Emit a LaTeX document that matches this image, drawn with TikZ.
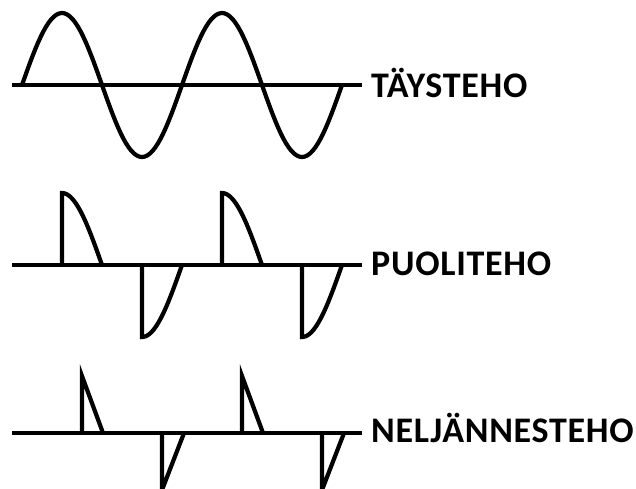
\documentclass[tikz,border=0pt]{standalone}
\usepackage{fontspec}
\setmainfont{Carlito}[LetterSpace=2]
\usetikzlibrary{positioning}

\begin{document}
\begin{tikzpicture}[x=1pt,y=-1pt,wave/.style={line width=4.2pt},lbl/.style={anchor=base west,inner sep=0pt,font=\bfseries\fontsize{36}{36}\selectfont}]
\useasboundingbox (0,0) rectangle (636,488);
% labels
\node[lbl] (full) at (371,97) {TÄYSTEHO};
\node[lbl] (half) at (371,275) {PUOLITEHO};
\node[lbl] (quarter) at (371,442) {NELJÄNNESTEHO};
% axes
\coordinate (f0) at (12,85); \coordinate (f1) at (362,85);
\coordinate (h0) at (12,265); \coordinate (h1) at (362,265);
\coordinate (q0) at (12,433); \coordinate (q1) at (362,433);
\draw[wave] (f0)--(f1); \draw[wave] (h0)--(h1); \draw[wave] (q0)--(q1);
% full sine
\draw[wave] plot[domain=0:720,samples=121] ({22+\x/2.25},{85-72*sin(\x)});
% half power
\foreach \k in {0,1}{
  \draw[wave] ({62+160*\k},265) -- ({62+160*\k},193) -- plot[domain=90:180,samples=30] ({22+160*\k+\x/2.25},{265-72*sin(\x)});
  \draw[wave] ({142+160*\k},265) -- ({142+160*\k},337) -- plot[domain=270:360,samples=30] ({22+160*\k+\x/2.25},{265-72*sin(\x)});
}
% quarter power
\foreach \k in {0,1}{
  \draw[wave] ({82+160*\k},433) -- ({82+160*\k},376) -- ({103+160*\k},433);
  \draw[wave] ({162+160*\k},433) -- ({162+160*\k},490) -- ({184+160*\k},433);
}
\end{tikzpicture}
\end{document}
